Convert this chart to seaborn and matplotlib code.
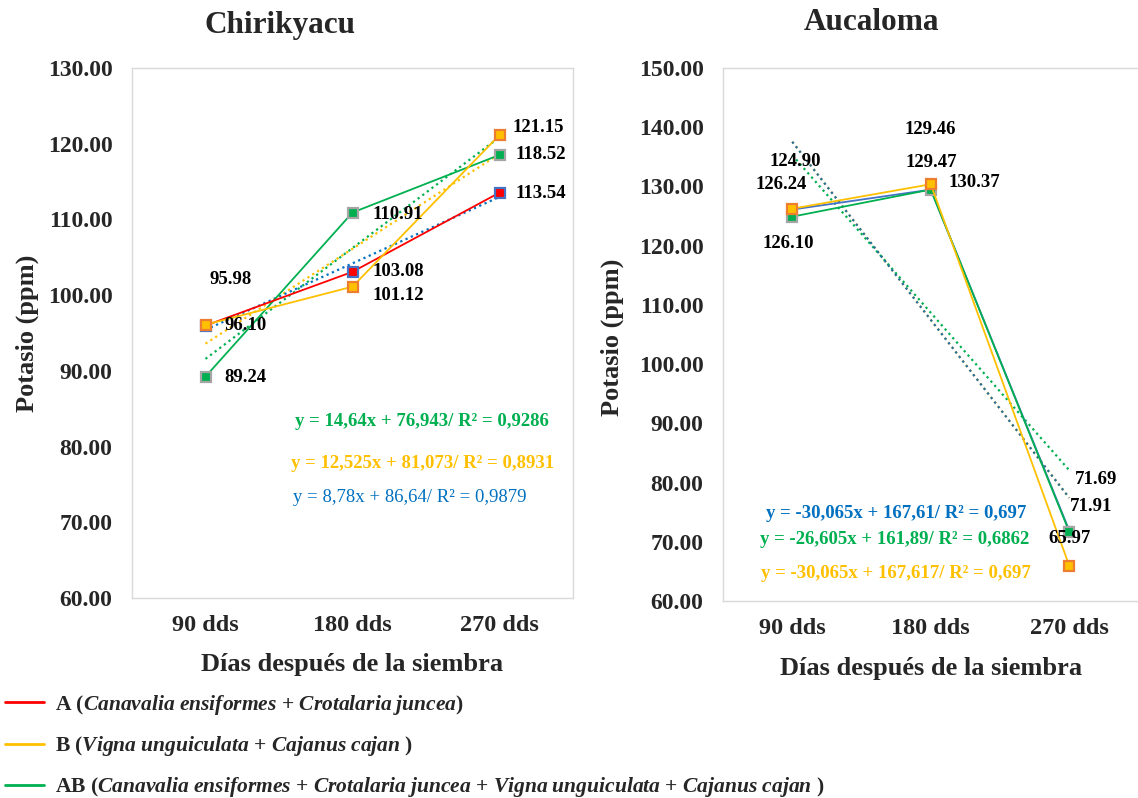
# potasio (ppm) over days after sowing, two sites side by side

import matplotlib
matplotlib.use("Agg")
import matplotlib.pyplot as plt
from matplotlib.lines import Line2D
import numpy as np
import seaborn as sns

# categories and values
dias = ["90 dds", "180 dds", "270 dds"]
x_pos = [1, 2, 3]

chiri_A = [95.98, 103.08, 113.54]
chiri_B = [96.10, 101.12, 121.15]
chiri_AB = [89.24, 110.91, 118.52]

auca_A = [126.10, 129.46, 71.91]
auca_B = [126.24, 130.37, 65.97]
auca_AB = [124.90, 129.47, 71.69]

# trend line coefficients (slope, intercept) as printed on the chart
chiri_trend_A = (8.78, 86.64)
chiri_trend_B = (12.525, 81.073)
chiri_trend_AB = (14.64, 76.943)
auca_trend_A = (-30.065, 167.61)
auca_trend_B = (-30.065, 167.617)
auca_trend_AB = (-26.605, 161.89)

chiri_eq = ["y = 14,64x + 76,943/ R² = 0,9286",
            "y = 12,525x + 81,073/ R² = 0,8931",
            "y = 8,78x + 86,64/ R² = 0,9879"]
auca_eq = ["y = -30,065x + 167,61/ R² = 0,697",
           "y = -26,605x + 161,89/ R² = 0,6862",
           "y = -30,065x + 167,617/ R² = 0,697"]

RED = "#FF0000"
YELLOW = "#FFC000"
GREEN = "#00B050"
BLUE = "#0070C0"
MK_BLUE = "#4472C4"
ORANGE = "#ED7D31"
GRAY = "#A5A5A5"

sns.set_theme(style="white")
plt.rcParams["font.family"] = ["Liberation Serif", "DejaVu Serif"]
plt.rcParams["mathtext.fontset"] = "custom"
plt.rcParams["mathtext.rm"] = "Liberation Serif"
plt.rcParams["mathtext.it"] = "Liberation Serif:italic"
plt.rcParams["mathtext.bf"] = "Liberation Serif:bold"
plt.rcParams["mathtext.bfit"] = "Liberation Serif:bold:italic"

W, H = 1138, 798
fig = plt.figure(figsize=(W / 100, H / 100), dpi=100)


def px_box(x0, y0, x1, y1):
    return [x0 / W, 1 - y1 / H, (x1 - x0) / W, (y1 - y0) / H]


ax1 = fig.add_axes(px_box(132, 68, 573, 598))
ax2 = fig.add_axes(px_box(723, 68, 1138.5, 601))


def trend(ax, coef, color):
    xs = np.array([x_pos[0], x_pos[-1]])
    ys = coef[0] * xs + coef[1]
    sns.lineplot(x=xs, y=ys, ax=ax, color=color, lw=1.6, linestyle=(0, (1, 1.6)), zorder=2)


def series(ax, vals, color, face, edge, ms=6.5):
    sns.lineplot(x=x_pos, y=vals, ax=ax, color=color, lw=1.3, marker="s", markersize=ms,
                 markerfacecolor=face, markeredgecolor=edge, markeredgewidth=1.6, zorder=3)


# Chirikyacu
trend(ax1, chiri_trend_B, YELLOW)
trend(ax1, chiri_trend_AB, GREEN)
trend(ax1, chiri_trend_A, BLUE)
series(ax1, chiri_AB, GREEN, GREEN, GRAY)
series(ax1, chiri_A, RED, RED, MK_BLUE)
series(ax1, chiri_B, YELLOW, YELLOW, ORANGE)

# Aucaloma (A markers sit under the other two)
trend(ax2, auca_trend_B, YELLOW)
trend(ax2, auca_trend_AB, GREEN)
trend(ax2, auca_trend_A, "#1F6FA8")
series(ax2, auca_A, MK_BLUE, RED, MK_BLUE, ms=5)
series(ax2, auca_AB, GREEN, GREEN, GRAY)
series(ax2, auca_B, YELLOW, YELLOW, ORANGE)

for ax, top in [(ax1, 130), (ax2, 150)]:
    ax.set_xlim(0.5, 3.5)
    ax.set_ylim(60, top)
    ax.set_xticks(x_pos)
    ax.set_xticklabels(dias)
    ax.set_yticks(np.arange(60, top + 1, 10))
    ax.set_yticklabels([f"{v:.2f}" for v in np.arange(60, top + 1, 10)])
    ax.tick_params(axis="y", length=0, pad=14, labelsize=17)
    ax.tick_params(axis="x", length=0, pad=12, labelsize=17.5)
    for lab in ax.get_xticklabels() + ax.get_yticklabels():
        lab.set_fontweight("bold")
    for sp in ax.spines.values():
        sp.set_color("#D9D9D9")
        sp.set_linewidth(1.0)
    ax.set_xlabel("")
    ax.set_ylabel("")
    ax.grid(False)

# data labels: (axis, x, value, dx px, dy px)
labels = [
    (ax1, 1, chiri_A[0], 4, 46), (ax1, 1, chiri_B[0], 19, -1), (ax1, 1, chiri_AB[0], 19, -1),
    (ax1, 2, chiri_AB[1], 20, -2), (ax1, 2, chiri_A[1], 20, 0), (ax1, 2, chiri_B[1], 20, -9),
    (ax1, 3, chiri_B[2], 13, 8), (ax1, 3, chiri_AB[2], 16, 0), (ax1, 3, chiri_A[2], 16, -1),
    (ax2, 1, auca_AB[0], -23, 55), (ax2, 1, auca_B[0], -37, 24), (ax2, 1, auca_A[0], -30, -34),
    (ax2, 2, auca_A[1], -26, 60), (ax2, 2, auca_AB[1], -25, 27), (ax2, 2, auca_B[1], 18, 2),
    (ax2, 3, auca_AB[2], 6, 52), (ax2, 3, auca_A[2], 1, 24), (ax2, 3, auca_B[2], -21, 27),
]
for ax, xv, val, dx, dy in labels:
    ax.annotate(f"{val:.2f}", xy=(xv, val), xytext=(dx, dy), textcoords="offset pixels",
                ha="left", va="center", fontsize=13.5, fontweight="bold", color="black",
                zorder=5, annotation_clip=False)

# trend equations
eq_pos = [
    (chiri_eq[0], 295, 421.7, GREEN, "bold"),
    (chiri_eq[1], 291, 463.3, YELLOW, "bold"),
    (chiri_eq[2], 293, 497.3, BLUE, "normal"),
    (auca_eq[0], 766, 513.3, BLUE, "bold"),
    (auca_eq[1], 760, 540, GREEN, "bold"),
    (auca_eq[2], 761, 573.3, YELLOW, "bold"),
]
for txt, px, py, col, wt in eq_pos:
    fig.text(px / W, 1 - py / H, txt, ha="left", va="center", fontsize=13.5,
             fontweight=wt, color=col)

# titles and axis titles
fig.text(280 / W, 1 - 25 / H, "Chirikyacu", ha="center", va="center", fontsize=22.5, fontweight="bold")
fig.text(871 / W, 1 - 22 / H, "Aucaloma", ha="center", va="center", fontsize=22.5, fontweight="bold")
fig.text(27 / W, 1 - 333 / H, "Potasio (ppm)", ha="center", va="center", rotation=90,
         fontsize=19, fontweight="bold")
fig.text(612 / W, 1 - 337 / H, "Potasio (ppm)", ha="center", va="center", rotation=90,
         fontsize=19, fontweight="bold")
fig.text(352 / W, 1 - 665 / H, "Días después de la siembra", ha="center", va="center",
         fontsize=19, fontweight="bold")
fig.text(931 / W, 1 - 668 / H, "Días después de la siembra", ha="center", va="center",
         fontsize=19, fontweight="bold")

# legend
handles = [Line2D([0], [0], color=RED, lw=2),
           Line2D([0], [0], color=YELLOW, lw=2),
           Line2D([0], [0], color=GREEN, lw=2)]
leg_labels = [
    r"A ($\mathbfit{Canavalia\ ensiformes}$ + $\mathbfit{Crotalaria\ juncea}$)",
    r"B ($\mathbfit{Vigna\ unguiculata}$ + $\mathbfit{Cajanus\ cajan}$ )",
    r"AB ($\mathbfit{Canavalia\ ensiformes}$ + $\mathbfit{Crotalaria\ juncea}$ + "
    r"$\mathbfit{Vigna\ unguiculata}$ + $\mathbfit{Cajanus\ cajan}$ )",
]
fig.legend(handles, leg_labels, loc="upper left", bbox_to_anchor=(5 / W, 1 - 693 / H),
           frameon=False, prop={"size": 15.5, "weight": "bold"}, handlelength=1.8,
           handletextpad=0.5, labelspacing=0.8, borderpad=0, borderaxespad=0)

fig.savefig("out.png", dpi=100)
